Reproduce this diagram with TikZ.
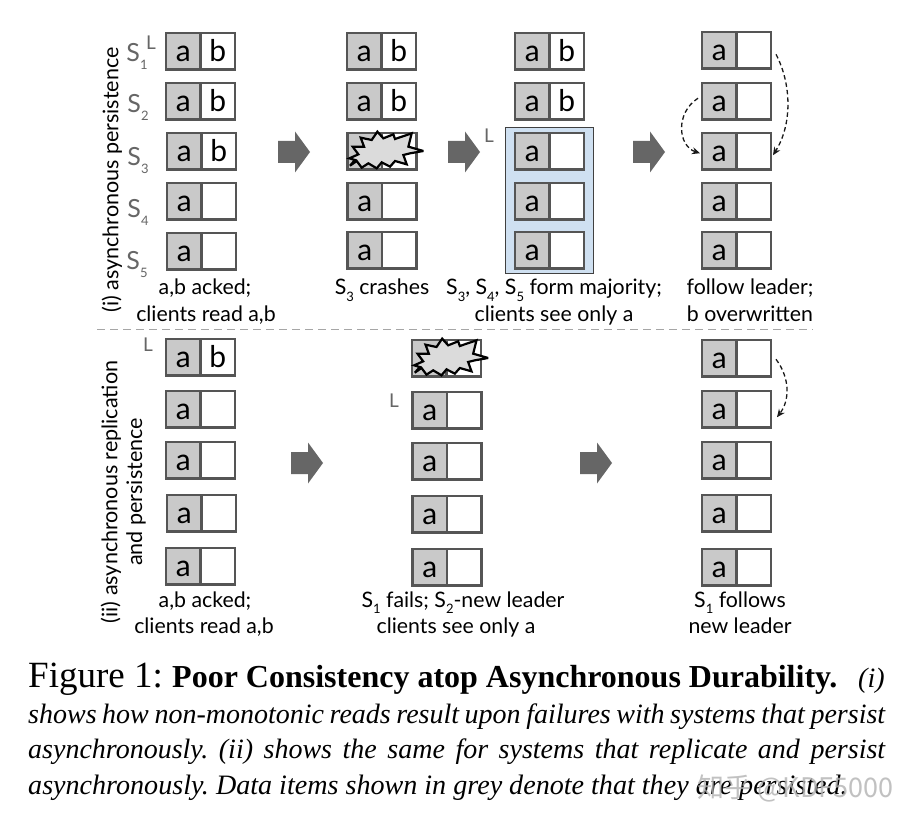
\documentclass[tikz,border=0pt]{standalone}
\usepackage{fontspec}
\usetikzlibrary{arrows.meta,calc}
\setmainfont{Lato}
\newfontfamily\capfont{Liberation Serif}
\newfontfamily\cjkfont{Noto Sans CJK SC}
\frenchspacing
\definecolor{cellline}{HTML}{555555}
\definecolor{cellgrey}{HTML}{C9C9C9}
\definecolor{majblue}{HTML}{CFE0F1}
\definecolor{sgrey}{HTML}{666666}
\newcommand\fs[1]{\fontsize{#1}{#1}\selectfont}
\newcommand\sbs[1]{\raisebox{-.32em}{\fs{13}#1}}
\tikzset{
  cellbase/.style={draw=cellline,line width=2.8pt,minimum width=34.5pt,minimum height=36.5pt,inner sep=0pt,outer sep=0pt,
     font=\fs{30},text height=20pt,text depth=0pt,text=black},
  cellL/.style={cellbase,fill=cellgrey},
  cellR/.style={cellbase,fill=white},
  lab/.style={font=\fs{21.3},anchor=base,inner sep=0pt,text=black},
  srv/.style={font=\fs{25},anchor=base,inner sep=0pt,text=sgrey},
  leadermark/.style={font=\fs{19},anchor=base,inner sep=0pt,text=sgrey},
  side/.style={font=\fs{21.5},rotate=90,anchor=center,inner sep=0pt,text=black},
  capline/.style={anchor=base west,inner sep=0pt,font=\capfont,text=black},
  followarrow/.style={dashed,dash pattern=on 4.5pt off 3pt,line width=1.3pt,-{Stealth[length=8pt,width=7pt]},black!90},
}
% name, left x, top y, left letter, right letter
\newcommand\servercell[5]{%
  \node[cellL] (#1a) at (#2+17.25,#3+18.25) {#4};
  \node[cellR] (#1b) at (#2+51.75,#3+18.25) {#5};
}
\newcommand\blockarrow[2]{%
  \fill[sgrey,shift={(#1,#2)}] (0,-11) -- (17,-11) -- (17,-20.5) -- (32,0) -- (17,20.5) -- (17,11) -- (0,11) -- cycle;
}
\newcommand\burst[2]{%
  \begin{scope}[shift={(#1,#2)}]
  \begin{scope}[x=.3333pt,y=-.3333pt,shift={(-125,-78)}]
  \draw[black,line width=2.2pt,fill=black!14,line join=miter,miter limit=3]
   (28,100)--(55,88)--(38,65)--(72,65)--(62,38)--(95,45)--(112,20)--(130,40)--(160,28)--(165,42)--(215,25)--(205,65)--(250,78)--(210,85)--(190,90)--(200,118)--(165,108)--(150,125)--(125,112)--(110,130)--(85,115)--(65,128)--(50,108)--(30,122)--(45,105)--cycle;
  \end{scope}
  \end{scope}
}
\begin{document}
\begin{tikzpicture}[x=1pt,y=-1pt]
\useasboundingbox (0,0) rectangle (916,826);
\fill[white] (0,0) rectangle (916,826);

% majority highlight
\fill[majblue,draw=black!75,line width=1pt] (505,128) rectangle (593,274);

% top group, column 1
\servercell{ta}{166}{33}{a}{b}
\servercell{tb}{166}{83}{a}{b}
\servercell{tc}{167}{133}{a}{b}
\servercell{td}{167}{183}{a}{}
\servercell{te}{167}{233}{a}{}
% column 2
\servercell{ua}{347}{33}{a}{b}
\servercell{ub}{347}{83}{a}{b}
\servercell{uc}{347.5}{133}{}{}
\servercell{ud}{347.5}{183}{a}{}
\servercell{ue}{347.5}{232}{a}{}
\burst{381.7}{151}
% column 3
\servercell{va}{515}{33}{a}{b}
\servercell{vb}{515}{83}{a}{b}
\servercell{vc}{515}{133}{a}{}
\servercell{vd}{515}{183}{a}{}
\servercell{ve}{515}{232}{a}{}
% column 4
\servercell{wa}{702}{32}{a}{}
\servercell{wb}{702}{83}{a}{}
\servercell{wc}{702}{133}{a}{}
\servercell{wd}{702}{183}{a}{}
\servercell{we}{702}{232}{a}{}

% bottom group
\servercell{xa}{166}{339}{a}{b}
\servercell{xb}{166}{391}{a}{}
\servercell{xc}{166}{442}{a}{}
\servercell{xd}{167}{495}{a}{}
\servercell{xe}{166}{548}{a}{}
\servercell{ya}{412}{340}{}{}
\servercell{yb}{412.5}{392}{a}{}
\servercell{yc}{412.5}{443}{a}{}
\servercell{yd}{412.5}{496}{a}{}
\servercell{ye}{412.5}{549}{a}{}
\burst{446.5}{358}
\servercell{za}{702}{340}{a}{}
\servercell{zb}{702}{391}{a}{}
\servercell{zc}{702}{442}{a}{}
\servercell{zd}{702}{495}{a}{}
\servercell{ze}{702}{549}{a}{}

% block arrows
\blockarrow{278}{152}
\blockarrow{448}{152}
\blockarrow{633}{152}
\blockarrow{291}{463}
\blockarrow{580}{463}

% follow arrows
\coordinate (fa) at ($(wab.east)+(5,4)$);
\coordinate (fb) at ($(wcb.east)+(2,4)$);
\coordinate (fc) at ($(wba.west)+(-4,-3)$);
\coordinate (fd) at ($(wca.west)+(-2,2)$);
\coordinate (fe) at ($(zab.east)+(5,1)$);
\coordinate (ff) at ($(zbb.east)+(6,8)$);
\draw[followarrow] (fa) .. controls (792,85) and (792,125) .. (fb);
\draw[followarrow] (fc) .. controls (675,113) and (678,146) .. (fd);
\draw[followarrow] (fe) .. controls (790,378) and (790,400) .. (ff);

% separator
\draw[black!35,line width=1.3pt,dash pattern=on 8pt off 5pt] (97,329.5) -- (813,329.5);

% server labels
\node[srv] (s1) at (137,62) {S\sbs{1}};
\node[leadermark] (s1l) at (151,50) {L};
\node[srv] (s2) at (138,113) {S\sbs{2}};
\node[srv] (s3) at (138,166) {S\sbs{3}};
\node[srv] (s4) at (138,218) {S\sbs{4}};
\node[srv] (s5) at (137,270) {S\sbs{5}};
\node[leadermark] (l2) at (489,143) {L};
\node[leadermark] (l3) at (148,352) {L};
\node[leadermark] (l4) at (394,407) {L};

% side labels
\node[side] (sidea) at (112,180) {(i) asynchronous persistence};
\node[side] (sideb) at (111,492) {(ii) asynchronous replication};
\node[side] (sidec) at (136,492) {and persistence};

% state labels
\node[lab] (c1) at (205,295) {a,b acked;};
\node[lab] (c2) at (206,322) {clients read a,b};
\node[lab] (c3) at (382,295) {S\sbs{3} crashes};
\node[lab] (c4) at (554,295) {S\sbs{3}, S\sbs{4}, S\sbs{5} form majority;};
\node[lab] (c5) at (554,322) {clients see only a};
\node[lab] (c6) at (750,295) {follow leader;};
\node[lab] (c7) at (750,322) {b overwritten};
\node[lab] (d1) at (205,607) {a,b acked;};
\node[lab] (d2) at (204,633) {clients read a,b};
\node[lab] (d3) at (463,607) {S\sbs{1} fails; S\sbs{2}-new leader};
\node[lab] (d4) at (456,633) {clients see only a};
\node[lab] (d5) at (740,607) {S\sbs{1} follows};
\node[lab] (d6) at (740,633) {new leader};

% caption
\node[capline] (cap1) at (28,687) {\fs{37}Figure 1:};
\node[capline] (cap1b) at (172,687) {\fs{32}\bfseries Poor Consistency atop Asynchronous Durability.};
\node[capline] (cap1c) at (858,687) {\fs{28}\itshape (i)};
\node[capline] (cap2) at (28,723) {\makebox[857pt][s]{\fs{28}\itshape shows how non-monotonic reads result upon failures with systems that persist}};
\node[capline] (cap3) at (28,758) {\makebox[857pt][s]{\fs{28}\itshape asynchronously. (ii) shows the same for systems that replicate and persist}};
\node[capline] (cap4) at (28,794) {\fs{28.1}\itshape asynchronously. Data items shown in grey denote that they are persisted.};

% watermark
\node[anchor=base west,inner sep=0pt,font=\cjkfont\fs{27},text=black!30,opacity=.8] (mark) at (697,797) {知乎 @KDF5000};
\end{tikzpicture}
\end{document}
